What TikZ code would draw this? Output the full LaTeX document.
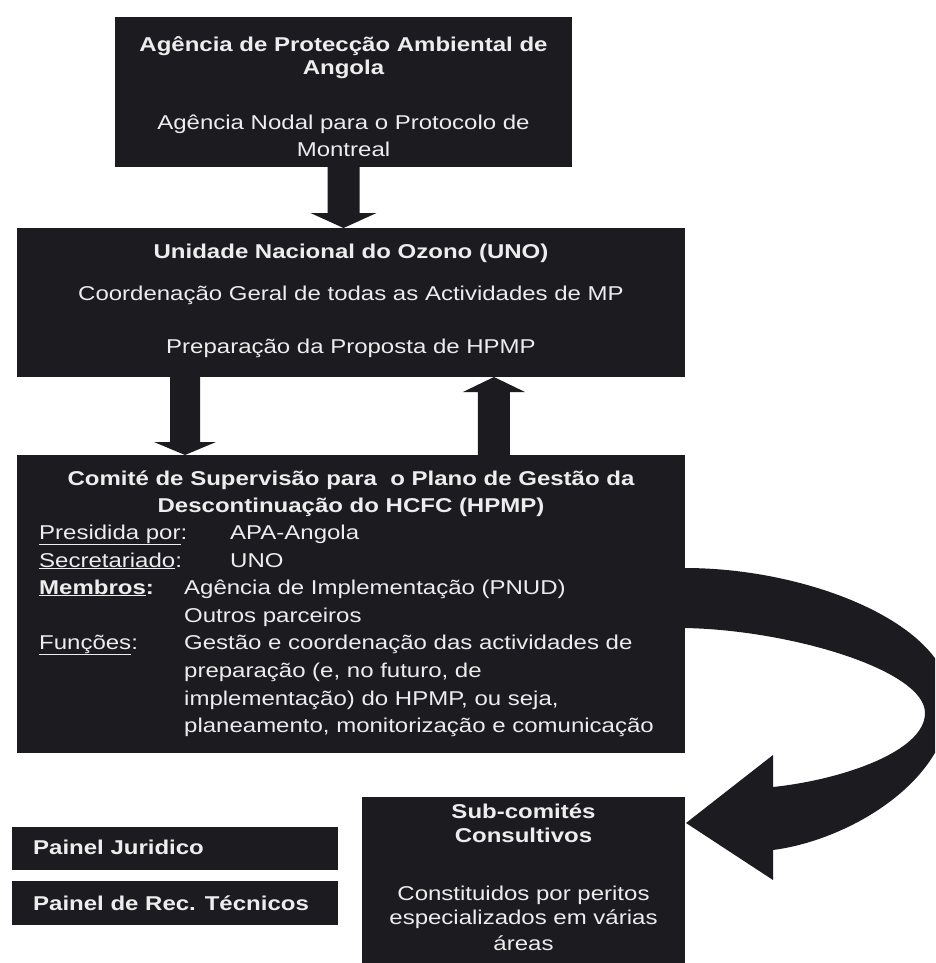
\documentclass[tikz,border=0pt]{standalone}
\usepackage{fontspec}
\setmainfont[FakeStretch=1.2]{Liberation Sans}
\usetikzlibrary{calc}
\definecolor{boxfill}{HTML}{1C1B20}
\definecolor{txt}{HTML}{EDEDED}
\definecolor{conn}{HTML}{5E5E5E}
\newcommand{\blockdown}[5]{%
  \fill[boxfill] let \p1=(#1), \p2=(#2) in
    ({\x1-#3},\y1) -- ({\x1+#3},\y1) -- ({\x1+#3},{\y2+#5}) -- ({\x1+#4},{\y2+#5})
    -- (\x1,\y2) -- ({\x1-#4},{\y2+#5}) -- ({\x1-#3},{\y2+#5}) -- cycle;}
\newcommand{\blockup}[5]{%
  \fill[boxfill] let \p1=(#1), \p2=(#2) in
    ({\x1-#3},\y1) -- ({\x1+#3},\y1) -- ({\x1+#3},{\y2-#5}) -- ({\x1+#4},{\y2-#5})
    -- (\x1,\y2) -- ({\x1-#4},{\y2-#5}) -- ({\x1-#3},{\y2-#5}) -- cycle;}
\begin{document}
\begin{tikzpicture}[x=1pt,y=-1pt,
  box/.style={fill=boxfill, draw=none, inner sep=0pt, outer sep=0pt, anchor=north west},
  tx/.style={text=txt, font=\fontsize{20}{24}\selectfont, inner sep=0pt, anchor=base},
  txb/.style={tx, font=\fontsize{20}{24}\selectfont\bfseries},
  lbl/.style={tx, anchor=base west},
  lblb/.style={txb, anchor=base west},
  connline/.style={draw=conn, line width=2.5pt}]
\useasboundingbox (0,0) rectangle (935,963);
\fill[white] (0,0) rectangle (935,963);
\clip (0,0) rectangle (935,963);

% boxes
\node[box, minimum width=457pt, minimum height=150pt] (b1) at (115,17) {};
\node[box, minimum width=668pt, minimum height=149pt] (b2) at (17,228) {};
\node[box, minimum width=668pt, minimum height=298pt] (b3) at (17,455) {};
\node[box, minimum width=323pt, minimum height=180pt] (sub) at (362,797) {};
\node[box, minimum width=326pt, minimum height=43pt] (p1) at (12,827) {};
\node[box, minimum width=326pt, minimum height=44pt] (p2) at (12,881) {};

% block arrows
\blockdown{b1.south}{b2.north}{16pt}{33pt}{15pt}
\blockdown{$(b2.south west)!0.2515!(b2.south east)$}{$(b3.north west)!0.2515!(b3.north east)$}{15pt}{31pt}{13pt}
\blockup{$(b3.north west)!0.714!(b3.north east)$}{$(b2.south west)!0.714!(b2.south east)$}{16pt}{31pt}{15pt}

% curved arrow from b3 to sub
\fill[boxfill] (680,568) -- (685,568) .. controls (810,568) and (950,625) .. (950,700)
  .. controls (950,780) and (850,840) .. (773,850) -- (773,880) -- ($(sub.north east)+(1,26)$)
  -- (773,755) -- (773,787) .. controls (840,780) and (925,752) .. (925,713)
  .. controls (925,670) and (790,630) .. (685,628) -- (680,628) -- cycle;

% connectors
\draw[connline] ($(p1.north east)!0.4!(p1.south east)$) -- ($(p1.north east)!0.4!(p1.south east)$ -| sub.west);
\draw[connline] ($(p2.north east)!0.25!(p2.south east)$) -- ($(p2.north east)!0.25!(p2.south east)$ -| sub.west);

% box 1 text
\node[txb] (t1a) at (343.5,52) {Agência de Protecção Ambiental de};
\node[txb] (t1b) at (343.5,75) {Angola};
\node[tx] (t1c) at (343.5,130) {Agência Nodal para o Protocolo de};
\node[tx] (t1d) at (343.5,157) {Montreal};

% box 2 text
\node[txb] (t2a) at (351,258) {Unidade Nacional do Ozono (UNO)};
\node[tx] (t2b) at (351,300) {Coordenação Geral de todas as Actividades de MP};
\node[tx] (t2c) at (351,353) {Preparação da Proposta de HPMP};

% box 3 text
\node[txb] (t3a) at (351,485) {Comité de Supervisão para \ o Plano de Gestão da};
\node[txb] (t3b) at (351,512) {Descontinuação do HCFC (HPMP)};
\node[lbl] (l1) at (39,539) {\underline{Presidida por}:};
\node[lbl] (v1) at (230,539) {APA-Angola};
\node[lbl] (l2) at (39,567) {\underline{Secretariado}:};
\node[lbl] (v2) at (230,567) {UNO};
\node[lblb] (l3) at (39,594) {\underline{Membros}:};
\node[lbl] (v3a) at (184,594) {Agência de Implementação (PNUD)};
\node[lbl] (v3b) at (184,622) {Outros parceiros};
\node[lbl] (l4) at (39,649) {\underline{Funções}:};
\node[lbl] (v4a) at (184,649) {Gestão e coordenação das actividades de};
\node[lbl] (v4b) at (184,677) {preparação (e, no futuro, de};
\node[lbl] (v4c) at (184,705) {implementação) do HPMP, ou seja,};
\node[lbl] (v4d) at (184,732) {planeamento, monitorização e comunicação};

% sub-committee text
\node[txb] (s1) at (523.5,818) {Sub-comités};
\node[txb] (s2) at (523.5,842) {Consultivos};
\node[tx] (s3) at (523.5,900) {Constituidos por peritos};
\node[tx] (s4) at (523.5,924) {especializados em várias};
\node[tx] (s5) at (523.5,950) {áreas};

% panels
\node[lblb] (pt1) at (33,854) {Painel Juridico};
\node[lblb] (pt2) at (33,910) {Painel de Rec. Técnicos};
\end{tikzpicture}
\end{document}
